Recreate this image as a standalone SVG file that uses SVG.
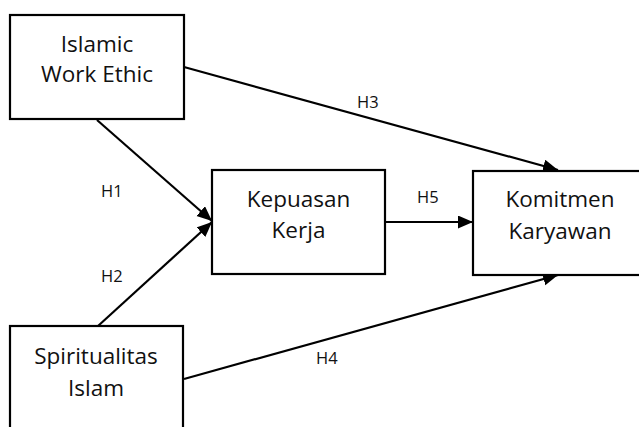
<svg xmlns="http://www.w3.org/2000/svg" width="639" height="427" viewBox="0 0 639 427">
<style>
  .box { fill: #ffffff; stroke: #000000; stroke-width: 2.2; }
  .t { font-family: "Open Sans", "Noto Sans", "DejaVu Sans", sans-serif; font-size: 22.5px; fill: #111111; text-anchor: middle; }
  .lbl { font-family: "Open Sans", "Noto Sans", "DejaVu Sans", sans-serif; font-size: 16.5px; fill: #111111; }
  .edge { stroke: #000000; stroke-width: 2.2; fill: none; marker-end: url(#arr); }
</style>
<defs>
  <marker id="arr" markerUnits="userSpaceOnUse" markerWidth="16" markerHeight="14" refX="15" refY="6.5" orient="auto">
    <path d="M0,0 L15,6.5 L0,13 z" fill="#000000"/>
  </marker>
</defs>
<rect width="639" height="427" fill="#ffffff"/>
<g id="connectors">
  <line class="edge" x1="97" y1="120" x2="212" y2="221"/>
  <line class="edge" x1="98" y1="326" x2="212" y2="222"/>
  <line class="edge" x1="184" y1="67" x2="558" y2="170"/>
  <line class="edge" x1="184" y1="379" x2="558" y2="275"/>
  <line class="edge" x1="385" y1="222" x2="473" y2="222"/>
  <text class="lbl" x="101" y="197">H1</text>
  <text class="lbl" x="101" y="282">H2</text>
  <text class="lbl" x="357" y="108">H3</text>
  <text class="lbl" x="316" y="364">H4</text>
  <text class="lbl" x="417" y="203">H5</text>
</g>
<g id="node-iwe">
  <rect class="box" x="10" y="15" width="174" height="104"/>
  <text class="t" x="97" y="52">Islamic</text>
  <text class="t" x="97" y="82">Work Ethic</text>
</g>
<g id="node-kepuasan">
  <rect class="box" x="212" y="170" width="173" height="104"/>
  <text class="t" x="298.5" y="207">Kepuasan</text>
  <text class="t" x="298.5" y="238">Kerja</text>
</g>
<g id="node-komitmen">
  <rect class="box" x="473" y="171" width="175" height="104"/>
  <text class="t" x="560" y="207">Komitmen</text>
  <text class="t" x="560" y="239">Karyawan</text>
</g>
<g id="node-spiritualitas">
  <rect class="box" x="10" y="326" width="173" height="110"/>
  <text class="t" x="96" y="364">Spiritualitas</text>
  <text class="t" x="96" y="396">Islam</text>
</g>
</svg>
